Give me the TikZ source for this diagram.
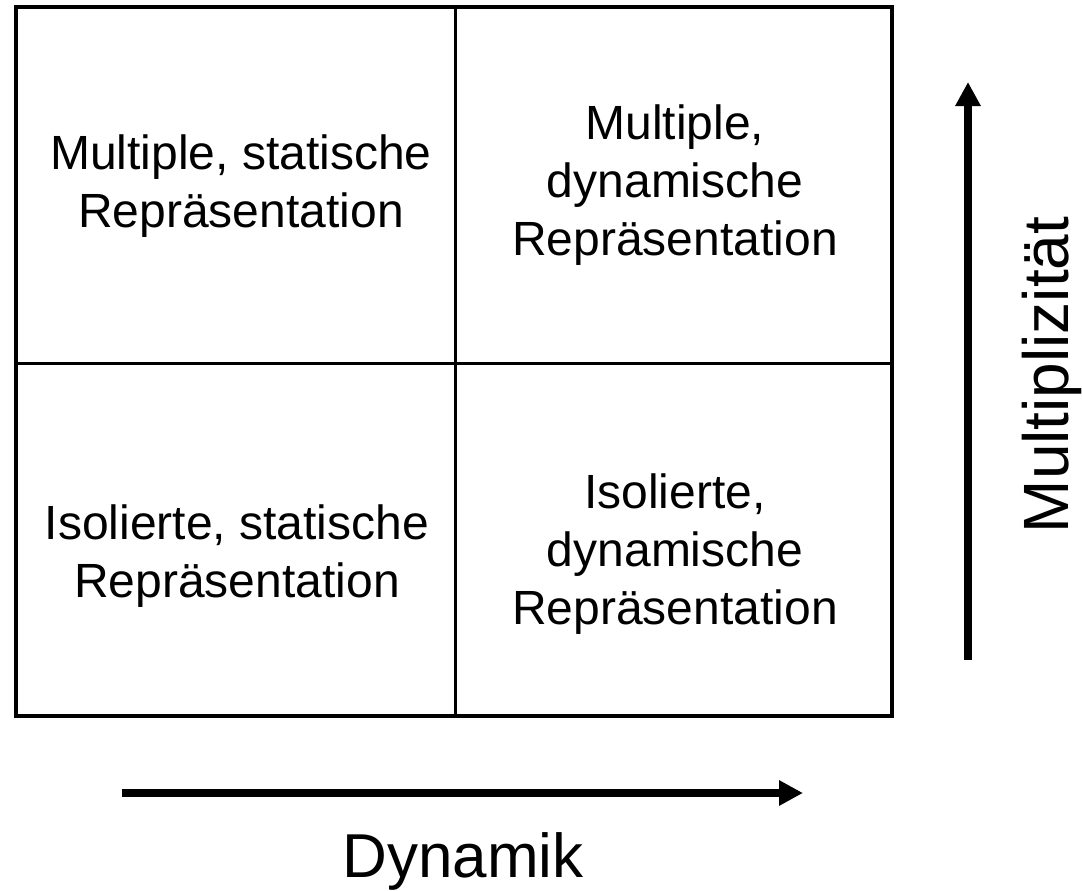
\documentclass[tikz,border=0pt]{standalone}
\usepackage{fontspec}
\setmainfont{Liberation Sans}
\usetikzlibrary{arrows.meta}
\begin{document}
\begin{tikzpicture}[x=1pt,y=-1pt,
  cell/.style={align=center,anchor=north,inner sep=0pt,font=\fontsize{48}{58}\selectfont},
  axis/.style={line width=8pt,-{Triangle[length=24pt,width=24pt]}},
  lbl/.style={font=\fontsize{64}{74}\selectfont}]
\useasboundingbox (0,0) rectangle (1082,891);
\draw[line width=4pt] (16,7) rectangle (892,716);
\draw[line width=3pt] (455,7) -- (455,716);
\draw[line width=3pt] (16,363) -- (892,363);
\node[cell] (tl) at (241,135) {Multiple, statische\\Repräsentation};
\node[cell] (tr) at (675,105) {Multiple,\\dynamische\\Repräsentation};
\node[cell] (bl) at (237,505) {Isolierte, statische\\Repräsentation};
\node[cell] (br) at (675,474) {Isolierte,\\dynamische\\Repräsentation};
\coordinate (v0) at (968,660);
\coordinate (v1) at (968,82);
\draw[axis] (v0) -- (v1);
\coordinate (h0) at (122,793);
\coordinate (h1) at (803,793);
\draw[axis] (h0) -- (h1);
\node[lbl,rotate=90,anchor=base] (mult) at (1068,375) {Multiplizität};
\node[lbl,anchor=base,font=\fontsize{62}{72}\selectfont] (dyn) at (463,877) {Dynamik};
\end{tikzpicture}
\end{document}
